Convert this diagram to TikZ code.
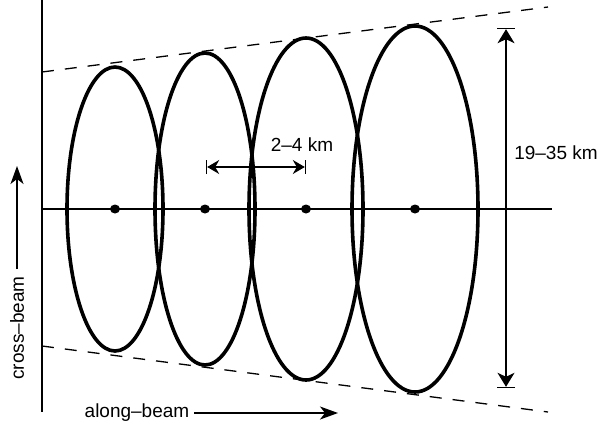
\documentclass[tikz,border=0pt]{standalone}
\usepackage{fontspec}
\setmainfont{Liberation Sans}
\usetikzlibrary{arrows.meta,shapes.geometric}
\begin{document}
\begin{tikzpicture}[x=1pt,y=-1pt,
  lbl/.style={font=\fontsize{19}{22}\selectfont, inner sep=0pt},
  beam/.style={line width=3.6pt},
  axis/.style={line width=1.2pt},
  bound/.style={line width=1.3pt, dash pattern=on 12pt off 11pt},
  dot/.style={ellipse, fill, minimum width=10pt, minimum height=9pt, inner sep=0pt},
  dimarrow/.style={line width=1.2pt, {Bar[width=18pt].Stealth[length=14pt,width=17pt,inset=4pt]}-{Stealth[length=14pt,width=17pt,inset=4pt].Bar[width=18pt]}},
  smallarrow/.style={line width=1.2pt, {Bar[width=14pt].Stealth[length=12pt,width=14pt,inset=4pt]}-{Stealth[length=12pt,width=14pt,inset=4pt].Bar[width=14pt]}},
  dirarrow/.style={line width=1.2pt, -{Stealth[length=18pt,width=13pt,inset=5pt]}}
]
\useasboundingbox (0,0) rectangle (604,429);
% axes
\coordinate (vtop) at (42,0);
\coordinate (vbot) at (42,412);
\coordinate (hl) at (42,209);
\coordinate (hr) at (552,209);
\draw[axis] (vtop) -- (vbot);
\draw[axis] (hl) -- (hr);
% boundary lines
\coordinate (ul) at (42,72);
\coordinate (ur) at (548,7);
\coordinate (ll) at (42,346);
\coordinate (lr) at (548,412);
\draw[bound] (ul) -- (ur);
\draw[bound] (ll) -- (lr);
% ellipses
\draw[beam] (115,209) ellipse [x radius=48, y radius=142];
\draw[beam] (205,209) ellipse [x radius=50, y radius=156];
\draw[beam] (306,209) ellipse [x radius=57, y radius=171];
\draw[beam] (415,209) ellipse [x radius=63, y radius=183];
% centres
\node[dot] (c1) at (115,209) {};
\node[dot] (c2) at (205,209) {};
\node[dot] (c3) at (306,209) {};
\node[dot] (c4) at (415,209) {};
% spacing
\coordinate (sa) at (206,167);
\coordinate (sb) at (306,167);
\draw[smallarrow] (sa) -- (sb);
\node[lbl] (sl) at (302,145) {2–4 km};
% width
\coordinate (wa) at (506,28);
\coordinate (wb) at (506,388);
\draw[dimarrow] (wa) -- (wb);
\node[lbl] (wl) at (556,153) {19–35 km};
% direction labels
\node[lbl, rotate=90] (cb) at (17,328) {cross–beam};
\coordinate (cbtip) at (17,166);
\draw[dirarrow] ([yshift=7pt]cb.east) -- (cbtip);
\node[lbl] (ab) at (137,413) {along–beam};
\coordinate (abtip) at (338,413);
\draw[dirarrow] ([xshift=5pt]ab.east) -- (abtip);
\end{tikzpicture}
\end{document}
